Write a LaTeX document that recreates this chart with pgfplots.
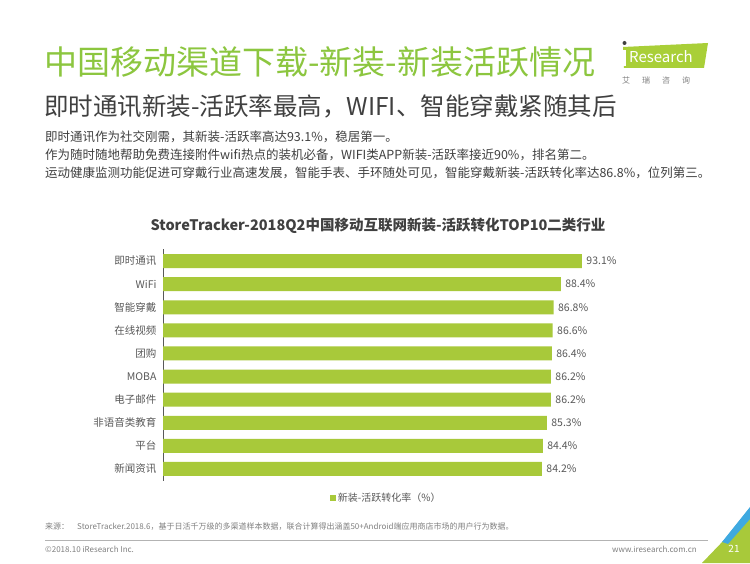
\documentclass[border=0pt]{standalone}
\usepackage{fontspec}
\setmainfont{Noto Sans CJK SC}
\usepackage{pgfplots}
\pgfplotsset{compat=1.18}
\definecolor{titlegreen}{HTML}{8CC63F}
\definecolor{bargreen}{HTML}{A8C93A}
\definecolor{logogreen}{HTML}{A9CF38}
\definecolor{darktext}{HTML}{404040}
\definecolor{midtext}{HTML}{595959}
\definecolor{lighttext}{HTML}{808080}
\definecolor{cornerblue}{HTML}{3FA9E0}
\newcommand{\fs}[1]{\fontsize{#1}{#1}\selectfont}
\begin{document}
\begin{tikzpicture}[x=1pt,y=1pt]
\path[use as bounding box, fill=white] (0,0) rectangle (750,563);
% title
\node[anchor=west, inner sep=0, text=titlegreen] at (44,501) {\fs{33}中国移动渠道下载-新装-新装活跃情况};
% logo
\fill[logogreen] (623,516) -- (708,520) -- (704,495) -- (624,495) -- cycle;
\node[anchor=west, inner sep=0, text=white] at (629,506) {\fs{15}Research};
\fill[darktext] (624.5,520) circle (2);
\fill[white] (623.2,497) rectangle (626,513);
\node[anchor=west, inner sep=0, text=lighttext] at (622,483) {\fs{8}艾\hspace{12pt}瑞\hspace{12pt}咨\hspace{12pt}询};
% subtitle
\node[anchor=west, inner sep=0, text=darktext] at (44,457) {\fs{24.5}即时通讯新装-活跃率最高，WIFI、智能穿戴紧随其后};
% body
\node[anchor=west, inner sep=0, text=darktext] at (45,426) {\fs{12.5}即时通讯作为社交刚需，其新装-活跃率高达93.1\%，稳居第一。};
\node[anchor=west, inner sep=0, text=darktext] at (45,408) {\fs{12.5}作为随时随地帮助免费连接附件wifi热点的装机必备，WIFI类APP新装-活跃率接近90\%，排名第二。};
\node[anchor=west, inner sep=0, text=darktext] at (45,390) {\fs{12.5}运动健康监测功能促进可穿戴行业高速发展，智能手表、手环随处可见，智能穿戴新装-活跃转化率达86.8\%，位列第三。};
% chart title
\node[anchor=center, inner sep=0, text=darktext] at (378,337) {\fs{14.5}\bfseries StoreTracker-2018Q2中国移动互联网新装-活跃转化TOP10二类行业};
\begin{axis}[
  at={(163pt,82.5pt)}, anchor=south west,
  scale only axis, width=450pt, height=231pt,
  xmin=0, xmax=100, ymin=-0.5, ymax=9.5,
  y dir=reverse,
  hide x axis,
  axis y line*=left,
  y axis line style={draw=midtext, line width=0.8pt, -},
  ytick={0,...,9},
  yticklabels={即时通讯,WiFi,智能穿戴,在线视频,团购,MOBA,电子邮件,非语音类教育,平台,新闻资讯},
  yticklabel style={font=\fs{10.5}, text=midtext, xshift=-3pt},
  major tick length=0pt,
  /pgf/number format/assume math mode=true,
  xbar, bar width=14pt,
  nodes near coords={\pgfmathprintnumber[fixed,precision=1,fixed zerofill,assume math mode=true]{\pgfplotspointmeta}\%},
  every node near coord/.append style={font=\fs{10.5}, text=midtext, xshift=1pt},
  legend style={at={(0.496,-0.076)}, anchor=center, draw=none, fill=none, font=\fs{10}, text=midtext, inner sep=0pt},
  legend image code/.code={\fill[bargreen] (0pt,-3pt) rectangle (6pt,3pt);},
  clip=false,
]
\addplot[fill=bargreen, draw=none] coordinates {
 (93.1,0) (88.4,1) (86.8,2) (86.6,3) (86.4,4) (86.2,5) (86.2,6) (85.3,7) (84.4,8) (84.2,9)};
\addlegendentry{新装-活跃转化率（\%）}
\end{axis}
% footer
\node[anchor=west, inner sep=0, text=lighttext] at (45,36) {\fs{8}来源：\hspace{8pt}StoreTracker.2018.6，基于日活千万级的多渠道样本数据，联合计算得出涵盖50+Android端应用商店市场的用户行为数据。};
\draw[draw=lighttext!60, line width=0.6pt] (45,23) -- (708,23);
\node[anchor=west, inner sep=0, text=lighttext] at (45,14) {\fs{8}©2018.10 iResearch Inc.};
\node[anchor=east, inner sep=0, text=lighttext] at (697,14) {\fs{8}www.iresearch.com.cn};
% corner
\fill[bargreen] (702,0) -- (750,50) -- (750,0) -- cycle;
\fill[cornerblue] (722,21) -- (750,56) -- (750,44) -- (728,19) -- cycle;
\node[anchor=center, inner sep=0, text=white] at (734,14) {\fs{10}21};
\end{tikzpicture}
\end{document}
